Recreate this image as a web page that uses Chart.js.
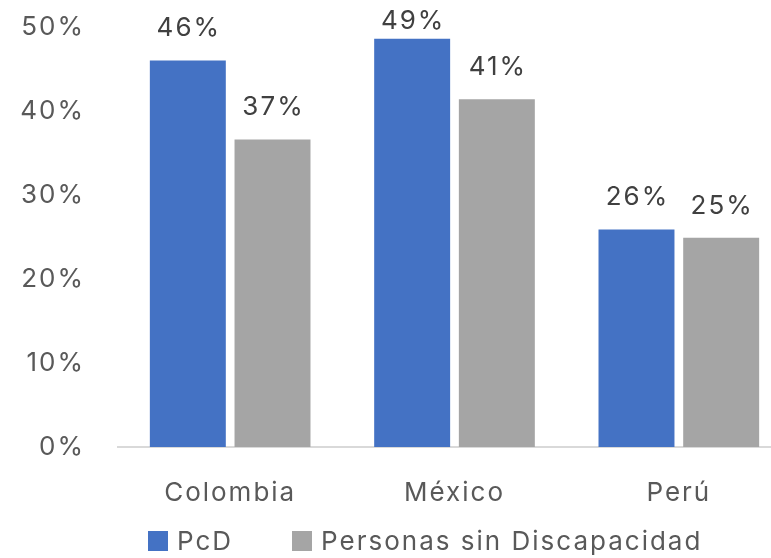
<!DOCTYPE html>
<html>
<head>
<meta charset="utf-8">
<script src="https://cdn.jsdelivr.net/npm/chart.js@4"></script>
<style>
  html, body { margin: 0; padding: 0; background: #fff; overflow: hidden; }
  #wrap { position: relative; width: 771px; height: 558px; overflow: hidden; }
  #box { position: absolute; left: 0; top: 0; width: 792px; height: 558px; }
  .legend { position: absolute; top: 525px; left: 148px; display: flex; align-items: center;
            font-family: Inter, sans-serif; font-size: 26px; color: #595959; white-space: nowrap;
            letter-spacing: 2px; }
  .legend span.sw { display: inline-block; width: 20px; height: 20px; margin-right: 9px; }
  .legend .item { display: flex; align-items: center; margin-right: 59px; }
</style>
</head>
<body>
<div id="wrap">
  <div id="box"><canvas id="chart"></canvas></div>
  <div class="legend" id="legend"></div>
</div>
<script>
const categories = ['Colombia', 'México', 'Perú'];
const pcd = [0.46, 0.486, 0.259];
const sinDiscapacidad = [0.366, 0.414, 0.249];
const yTicks = [0, 0.1, 0.2, 0.3, 0.4, 0.5];

const FONT = 'Inter, sans-serif';
const BLUE = '#4472C4';
const GRAY = '#A5A5A5';

// la fuente original es más ancha
const spacing = {
    id: 'spacing',
    beforeDraw(chart) {
        chart.ctx.letterSpacing = '2px';
    }
};

// etiquetas encima de las barras
const barLabels = {
    id: 'barLabels',
    afterDatasetsDraw(chart) {
        const ctx = chart.ctx;
        ctx.save();
        ctx.font = '26px ' + FONT;
        ctx.fillStyle = '#404040';
        ctx.textAlign = 'center';
        ctx.textBaseline = 'middle';
        chart.data.datasets.forEach((ds, i) => {
            chart.getDatasetMeta(i).data.forEach((bar, j) => {
                // no dejar que se salga por arriba
                const y = Math.max(bar.y - 32, 21);
                ctx.fillText(Math.round(ds.data[j] * 100) + '%', bar.x + 1, y);
            });
        });
        ctx.restore();
    }
};

const chart = new Chart(document.getElementById('chart'), {
    type: 'bar',
    data: {
        labels: categories,
        datasets: [
            { label: 'PcD', data: pcd, backgroundColor: BLUE },
            { label: 'Personas sin Discapacidad', data: sinDiscapacidad, backgroundColor: GRAY }
        ]
    },
    options: {
        responsive: true,
        maintainAspectRatio: false,
        animation: false,
        layout: { padding: { top: 27, right: 1, bottom: 0, left: 0 } },
        datasets: {
            bar: { categoryPercentage: 0.755, barPercentage: 0.897 }
        },
        plugins: {
            legend: { display: false },
            tooltip: { enabled: false }
        },
        scales: {
            x: {
                grid: { display: false, drawTicks: false },
                border: { display: true, color: '#D9D9D9', width: 2 },
                ticks: { color: '#595959', font: { family: FONT, size: 26 }, padding: 31 },
                afterFit: s => { s.height = 111; }
            },
            y: {
                min: 0,
                max: 0.5,
                afterBuildTicks: s => { s.ticks = yTicks.map(v => ({ value: v })); },
                grid: { display: false, drawTicks: false },
                border: { display: false },
                ticks: {
                    color: '#595959',
                    font: { family: FONT, size: 26 },
                    padding: 33,
                    callback: v => Math.round(v * 100) + '%'
                },
                afterFit: s => { s.width = 118; s.paddingTop = 0; s.paddingBottom = 0; }
            }
        }
    },
    plugins: [spacing, barLabels]
});

// leyenda en HTML
const legend = document.getElementById('legend');
chart.data.datasets.forEach(ds => {
    const item = document.createElement('div');
    item.className = 'item';
    item.innerHTML = `<span class="sw" style="background:${ds.backgroundColor}"></span>${ds.label}`;
    legend.appendChild(item);
});
</script>
</body>
</html>
